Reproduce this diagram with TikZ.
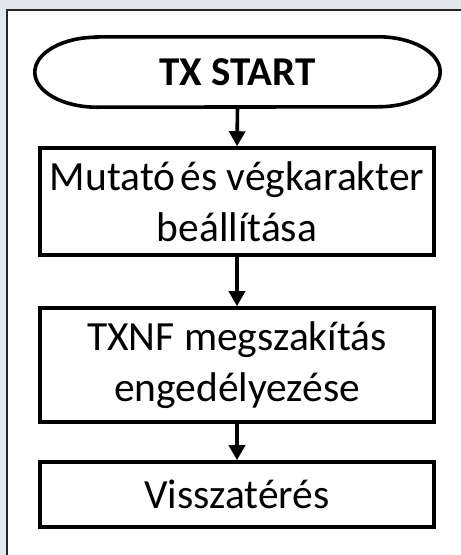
\documentclass[tikz,border=0pt]{standalone}
\usepackage{fontspec}
\setmainfont{Carlito}
\usetikzlibrary{arrows.meta}
\definecolor{bgc}{HTML}{E2E9ED}
\tikzset{
  flowbox/.style={draw=none,minimum width=394pt,inner sep=0pt,align=center,font=\fontsize{41.5}{51}\selectfont},
  boxline/.style={line width=3.6pt,line join=miter},
  conn/.style={line width=3.6pt,-{Triangle[length=15pt,width=16pt]}},
}
\begin{document}
\begin{tikzpicture}[x=1pt,y=-1pt]
\useasboundingbox (0,0) rectangle (461,555);
\fill[bgc] (0,0) rectangle (461,555);
\fill[white] (7,10) rectangle (461,555);
\draw[line width=2pt,black!85] (7,555) -- (7,10) -- (461,10);
% terminal
\node[flowbox,minimum width=405pt,minimum height=70pt,font=\fontsize{41}{48}\selectfont\bfseries] (t) at (237.5,72) {TX START};
\draw[boxline] ([xshift=62pt]t.north west) -- ([xshift=-62pt]t.north east)
  arc[start angle=90,end angle=-90,x radius=62pt,y radius=35pt]
  -- ([xshift=62pt]t.south west)
  arc[start angle=270,end angle=90,x radius=62pt,y radius=35pt] -- cycle;
\node[flowbox,draw,boxline,minimum height=107pt] (b1) at (237,201.5) {Mutató\hspace{0.12em}és végkarakter\\beállítása};
\node[flowbox,draw,boxline,minimum height=114pt] (b2) at (237,365) {TXNF megszakítás\\engedélyezése};
\node[flowbox,draw,boxline,minimum height=65pt] (b3) at (237,494.5) {Visszatérés};
\draw[conn] (t.south) -- (b1.north);
\draw[conn] (b1.south) -- (b2.north);
\draw[conn] (b2.south) -- (b3.north);
\end{tikzpicture}
\end{document}
